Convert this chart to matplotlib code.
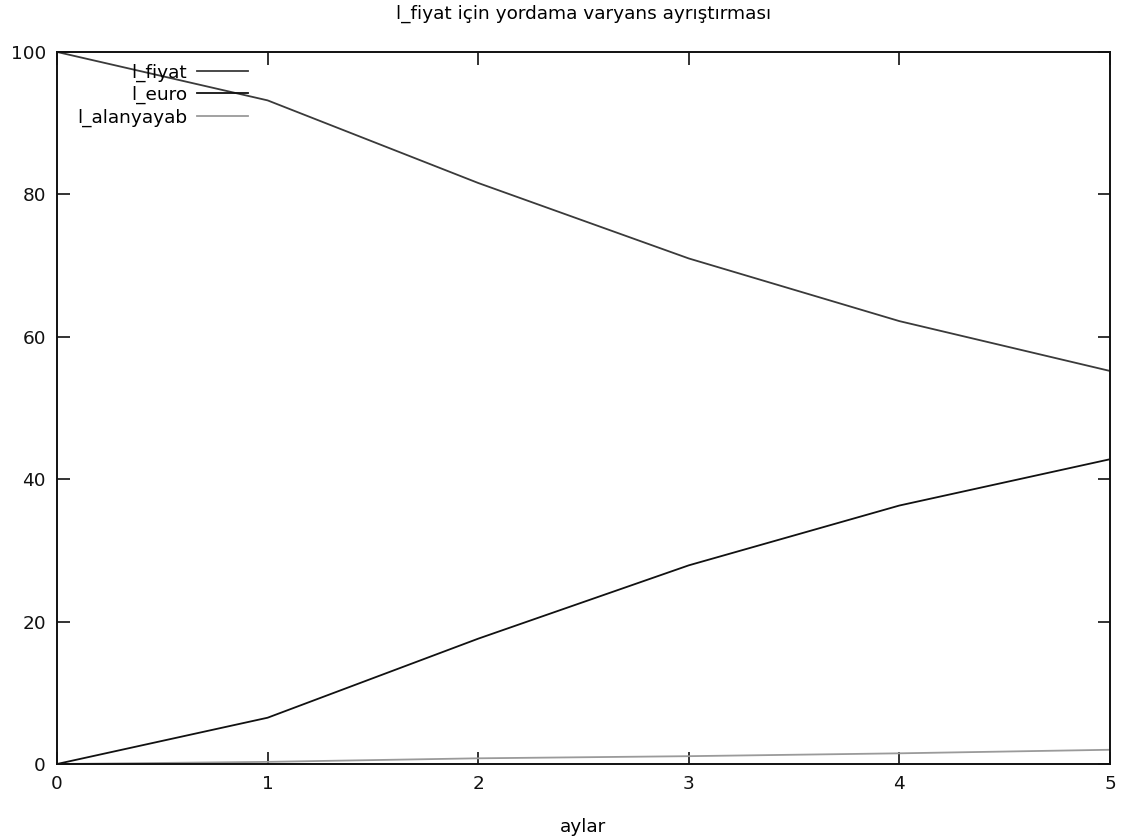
import matplotlib
matplotlib.use("Agg")
import matplotlib.pyplot as plt

# Forecast error variance decomposition for l_fiyat (percent)
months = [0, 1, 2, 3, 4, 5]
l_fiyat = [100.0, 93.2, 81.6, 71.0, 62.2, 55.2]
l_euro = [0.0, 6.5, 17.6, 27.9, 36.3, 42.8]
l_alanyayab = [0.0, 0.3, 0.8, 1.1, 1.5, 2.0]

series = [("l_fiyat", l_fiyat, "#3a3a3a"),
          ("l_euro", l_euro, "#111111"),
          ("l_alanyayab", l_alanyayab, "#9a9a9a")]

plt.rcParams['font.family'] = ['DejaVu Sans']
fs = 13.3

fig = plt.figure(figsize=(11.24, 8.38), dpi=100)
ax = fig.add_axes([0.0507, 0.0883, 0.9368, 0.8497])

for name, vals, col in series:
    ax.plot(months, vals, color=col, lw=1.3, label=name)

ax.set_xlim(0, 5)
ax.set_ylim(0, 100)
ax.set_xticks(months)
ax.set_yticks([0, 20, 40, 60, 80, 100])
ax.tick_params(direction='in', length=9, width=1.2, top=True, right=True,
               labelsize=fs, pad=8, colors='#111111')
for sp in ax.spines.values():
    sp.set_linewidth(1.4)
    sp.set_color('#111111')

ax.set_title("l_fiyat için yordama varyans ayrıştırması", fontsize=fs, pad=24)
ax.set_xlabel("aylar", fontsize=fs, labelpad=18)

ax.legend(loc='upper left', bbox_to_anchor=(0.019, 0.984), frameon=False,
          markerfirst=False, fontsize=fs, handlelength=2.75, handletextpad=0.55,
          labelspacing=0.23, borderaxespad=0.0, borderpad=0.0)

fig.savefig("out.png", dpi=100)
